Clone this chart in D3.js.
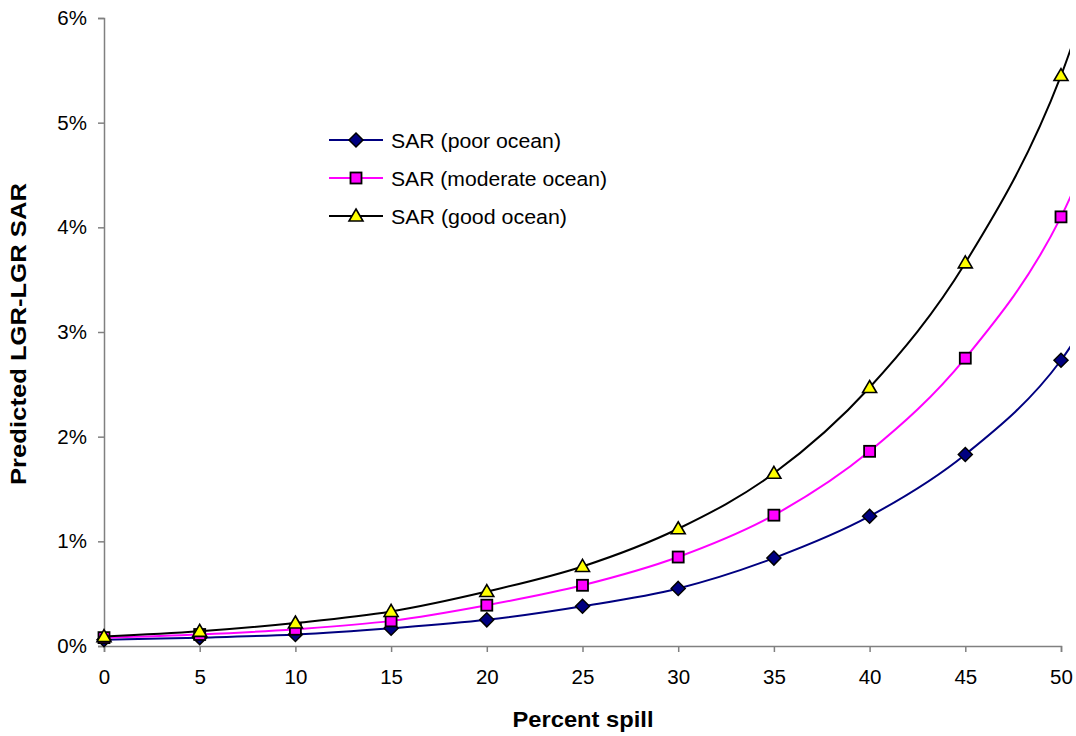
<!DOCTYPE html>
<html>
<head>
<meta charset="utf-8">
<script src="https://cdn.jsdelivr.net/npm/d3@7"></script>
<style>
  html, body { margin: 0; padding: 0; background: #fff; }
  svg { display: block; font-family: "Liberation Sans", Arial, sans-serif; }
</style>
</head>
<body>
<svg id="chart" width="1076" height="736"></svg>
<script>
// Percent spill levels (x) and predicted SAR (%) for three ocean conditions
const spill = [0, 5, 10, 15, 20, 25, 30, 35, 40, 45, 50, 55];
const sarPoor     = [0.06, 0.08, 0.11, 0.17, 0.25, 0.38, 0.55, 0.84, 1.24, 1.83, 2.73, 4.3];
const sarModerate = [0.08, 0.11, 0.16, 0.24, 0.39, 0.58, 0.85, 1.25, 1.86, 2.75, 4.10, 6.4];
const sarGood     = [0.09, 0.14, 0.22, 0.33, 0.52, 0.76, 1.12, 1.65, 2.47, 3.66, 5.45, 8.4];
const seriesNames = ["SAR (poor ocean)", "SAR (moderate ocean)", "SAR (good ocean)"];
const xTicks = [0, 5, 10, 15, 20, 25, 30, 35, 40, 45, 50];
const yTicks = [0, 1, 2, 3, 4, 5, 6];

const svg = d3.select("#chart");
const W = 1076, H = 736;
const FONT = "Liberation Sans, Arial, sans-serif";

const x = d3.scaleLinear().domain([0, 50]).range([104, 1061]);
const y = d3.scaleLinear().domain([0, 6]).range([646, 18]);

const axisColor = "#808080";

// Y axis
const yAxis = svg.append("g")
  .attr("transform", `translate(${x(0)},0)`)
  .call(d3.axisLeft(y).tickValues(yTicks).tickSize(6).tickPadding(11)
    .tickFormat(d => d + "%"));
yAxis.select(".domain").attr("stroke", axisColor).attr("stroke-width", 1.5);
yAxis.selectAll(".tick line").attr("stroke", axisColor).attr("stroke-width", 1.5);
yAxis.selectAll(".tick text").attr("font-size", 20.5).attr("fill", "#000")
  .attr("font-family", FONT);

// X axis
const xAxis = svg.append("g")
  .attr("transform", `translate(0,${y(0)})`)
  .call(d3.axisBottom(x).tickValues(xTicks).tickSize(6).tickPadding(17));
xAxis.select(".domain").attr("stroke", axisColor).attr("stroke-width", 1.5);
xAxis.selectAll(".tick line").attr("stroke", axisColor).attr("stroke-width", 1.5);
xAxis.selectAll(".tick text").attr("font-size", 20.5).attr("fill", "#000")
  .attr("font-family", FONT);

// Axis titles
svg.append("text")
  .attr("x", 583).attr("y", 727)
  .attr("text-anchor", "middle")
  .attr("font-size", 21.5).attr("font-weight", "bold")
  .attr("textLength", 141).attr("lengthAdjust", "spacingAndGlyphs")
  .text("Percent spill");

svg.append("text")
  .attr("transform", "translate(25.5,334) rotate(-90)")
  .attr("text-anchor", "middle")
  .attr("font-size", 21.5).attr("font-weight", "bold")
  .attr("textLength", 302).attr("lengthAdjust", "spacingAndGlyphs")
  .text("Predicted LGR-LGR SAR");

// Series lines and markers, clipped at the chart edge
svg.append("defs").append("clipPath").attr("id", "edge")
  .append("rect").attr("x", 0).attr("y", 0).attr("width", 1070).attr("height", H);

const series = [
  { name: seriesNames[0], values: sarPoor,     stroke: "#000080", fill: "#000080", shape: "diamond",  legendLen: 170 },
  { name: seriesNames[1], values: sarModerate, stroke: "#FF00FF", fill: "#FF00FF", shape: "square",   legendLen: 216 },
  { name: seriesNames[2], values: sarGood,     stroke: "#000000", fill: "#FFFF00", shape: "triangle", legendLen: 176 }
];

const line = d3.line()
  .x((d, i) => x(spill[i]))
  .y(d => y(d))
  .curve(d3.curveCardinal.tension(0));

function drawMarker(g, s, cx, cy) {
  if (s.shape === "diamond") {
    g.append("path").attr("d", "M0,-7L7,0L0,7L-7,0Z")
      .attr("transform", `translate(${cx},${cy})`)
      .attr("fill", s.fill).attr("stroke", "#000").attr("stroke-width", 1.5);
  } else if (s.shape === "square") {
    g.append("rect").attr("x", cx - 5.5).attr("y", cy - 5.5)
      .attr("width", 11).attr("height", 11)
      .attr("fill", s.fill).attr("stroke", "#000").attr("stroke-width", 1.8);
  } else {
    g.append("path").attr("d", "M0,-7L7,5L-7,5Z")
      .attr("transform", `translate(${cx},${cy})`)
      .attr("fill", s.fill).attr("stroke", "#000").attr("stroke-width", 1.6);
  }
}

const plot = svg.append("g").attr("clip-path", "url(#edge)");
series.forEach(s => {
  const g = plot.append("g");
  g.append("path").datum(s.values)
    .attr("d", line)
    .attr("fill", "none")
    .attr("stroke", s.stroke)
    .attr("stroke-width", 2);
  s.values.forEach((v, i) => drawMarker(g, s, x(spill[i]), y(v)));
});

// Legend
const legend = svg.append("g");
const legendY = [140, 178, 216];
series.forEach((s, i) => {
  const ly = legendY[i];
  legend.append("line")
    .attr("x1", 329).attr("x2", 383).attr("y1", ly).attr("y2", ly)
    .attr("stroke", s.stroke).attr("stroke-width", 2);
  drawMarker(legend, s, 356, ly);
  legend.append("text")
    .attr("x", 391).attr("y", ly + 8)
    .attr("font-size", 20.5)
    .attr("textLength", s.legendLen).attr("lengthAdjust", "spacingAndGlyphs")
    .text(s.name);
});
</script>
</body>
</html>
